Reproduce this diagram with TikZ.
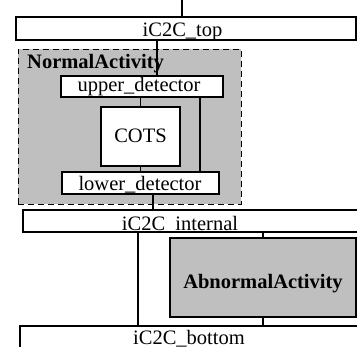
\documentclass[tikz,border=0pt]{standalone}
\usepackage{fontspec}
\setmainfont{Liberation Serif}
\usetikzlibrary{positioning}

\tikzset{
	box/.style={draw, line width=1.3pt, fill=white, inner sep=0pt},
	region/.style={draw, fill=black!25, inner sep=0pt},
	wire/.style={line width=1.3pt},
	txt/.style={anchor=base, inner sep=0pt},
}

\begin{document}
\begin{tikzpicture}[x=1pt, y=-1pt, font=\fontsize{20.5}{24}\selectfont]
		\useasboundingbox (0,0) rectangle (357,347);
		
		% Regions
		\node[region, line width=0.9pt, dash pattern=on 6pt off 4pt, minimum width=223pt, minimum height=155pt] (normal) at (129.5,126.5) {};
		\node[region, line width=1.3pt, minimum width=186pt, minimum height=79pt] (abnormal) at (263,277.5) {};
		\node[txt, anchor=base west, font=\fontsize{20.5}{24}\selectfont\bfseries] (normalt) at (27,69) {NormalActivity};
		\node[txt, font=\fontsize{20.5}{24}\selectfont\bfseries] (abnormalt) at (263,289) {AbnormalActivity};
		
		% Buses
		\node[box, minimum width=340pt, minimum height=23pt] (top) at (186,28.5) {};
		\node[box, minimum width=357pt, minimum height=22pt] (internal) at (201.5,221) {};
		\node[box, minimum width=360pt, minimum height=34pt] (bottom) at (200,343) {};
		
		% Detectors and COTS
		\node[box, minimum width=162pt, minimum height=21pt] (upper) at (142,86.5) {};
		\node[box, minimum width=79pt, minimum height=59pt] (cots) at (140.5,136.5) {};
		\node[box, minimum width=157pt, minimum height=22pt] (lower) at (140.5,183) {};
		
		% Wire positions
		\coordinate (topin) at (182,0);
		\coordinate (wa) at (157,0);
		\coordinate (wb) at (140.5,0);
		\coordinate (wc) at (200,0);
		\coordinate (wd) at (153,0);
		\coordinate (we) at (138,0);
		\coordinate (wf) at (263,0);
		
		% Wires
		\draw[wire] (topin) -- (top.north -| topin);
		\foreach \a/\b/\w in {top/upper/wa, upper/cots/wb, cots/lower/wb, upper/lower/wc,
			lower/internal/wd, internal/bottom/we, internal/abnormal/wf, abnormal/bottom/wf} {
			\draw[wire] (\a.south -| \w) -- (\b.north -| \w);
		}
		
		% Labels
		\node[txt] (topt) at (182.5,37) {iC2C\_top};
		\node[txt] (uppert) at (139,92) {upper\_detector};
		\node[txt] (cotst) at (140.5,143) {COTS};
		\node[txt] (lowert) at (140,191) {lower\_detector};
		\node[txt] (internalt) at (180,231) {iC2C\_internal};
		\node[txt] (bottomt) at (189,345) {iC2C\_bottom};
		
	\end{tikzpicture}
\end{document}
